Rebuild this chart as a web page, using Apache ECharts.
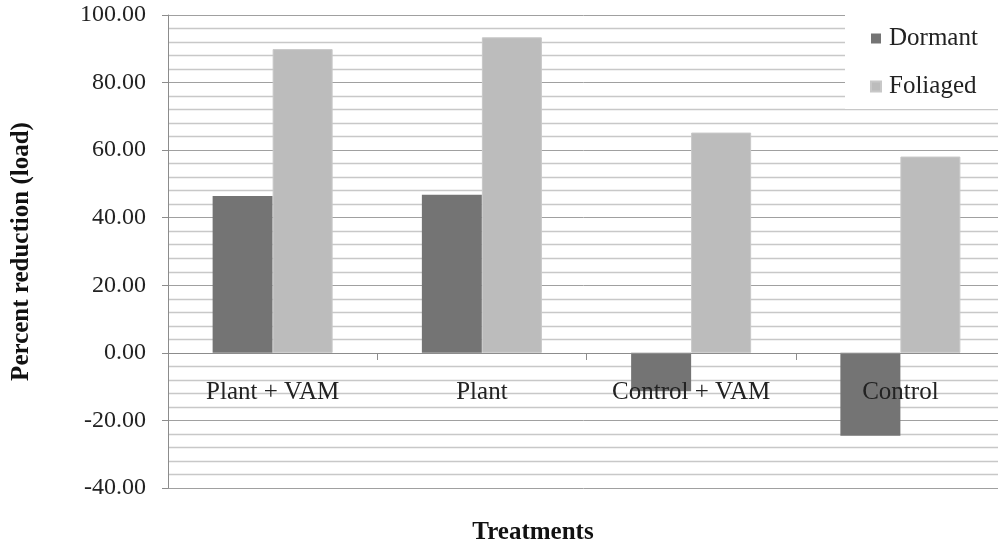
<!DOCTYPE html>
<html>
<head>
<meta charset="utf-8">
<script src="https://cdn.jsdelivr.net/npm/echarts@6/dist/echarts.min.js"></script>
<style>
  html, body { margin: 0; padding: 0; background: #fff; }
  #main { width: 998px; height: 546px; }
</style>
</head>
<body>
<div id="main"></div>
<script>
// 数据
var categories = ['Plant + VAM', 'Plant', 'Control + VAM', 'Control'];
var dormant = [46.4, 46.8, -11.4, -24.5];
var foliaged = [89.9, 93.4, 65.2, 58.1];

var myChart = echarts.init(document.getElementById('main'));
var font = 'Liberation Serif';

myChart.setOption({
  animation: false,
  backgroundColor: '#ffffff',
  color: ['#747474', '#bcbcbc'],
  grid: {
    left: 168,
    top: 15,
    bottom: 58,
    right: -7,
    containLabel: false,
    outerBoundsMode: 'none'
  },
  legend: {
    orient: 'vertical',
    left: 845,
    top: 13,
    padding: [13, 40, 10, 25],
    backgroundColor: '#ffffff',
    itemWidth: 10,
    itemHeight: 10,
    itemGap: 23,
    icon: 'rect',
    textStyle: { fontFamily: font, fontSize: 25, color: '#222', padding: [0, 0, 0, 3] },
    data: ['Dormant', 'Foliaged']
  },
  graphic: [
    {
      type: 'text',
      x: 533,
      y: 533,
      style: {
        text: 'Treatments',
        fontFamily: font,
        fontSize: 25,
        fontWeight: 'bold',
        fill: '#111',
        align: 'center',
        verticalAlign: 'middle'
      }
    }
  ],
  xAxis: {
    type: 'category',
    data: categories,
    // 横轴放在 0 的位置，文字压在柱子上面
    offset: -135,
    z: 5,
    axisLine: { onZero: false, lineStyle: { color: '#8c8c8c' } },
    axisTick: { show: true, length: 7, lineStyle: { color: '#8c8c8c' } },
    axisLabel: {
      margin: 27,
      fontFamily: font,
      fontSize: 25,
      color: '#222'
    }
  },
  yAxis: {
    type: 'value',
    min: -40,
    max: 100,
    interval: 20,
    axisLine: { show: true, lineStyle: { color: '#8c8c8c' } },
    axisTick: { show: true, length: 6, lineStyle: { color: '#8c8c8c' } },
    axisLabel: {
      margin: 22,
      fontFamily: font,
      fontSize: 24,
      color: '#222',
      formatter: function (v) { return v.toFixed(2); }
    },
    splitLine: { lineStyle: { color: '#a0a0a0', width: 1 } },
    minorTick: { show: false, splitNumber: 5 },
    minorSplitLine: { show: true, lineStyle: { color: '#c8c8c8', width: 1.3 } },
    name: 'Percent reduction (load)',
    nameLocation: 'middle',
    nameGap: 146,
    nameTextStyle: { fontFamily: font, fontSize: 25, fontWeight: 'bold', color: '#111', verticalAlign: 'middle' }
  },
  series: [
    {
      name: 'Dormant',
      type: 'bar',
      barWidth: 60,
      barGap: '0%',
      data: dormant
    },
    {
      name: 'Foliaged',
      type: 'bar',
      barWidth: 60,
      itemStyle: { borderColor: '#c8c8c8', borderWidth: 1 },
      data: foliaged
    }
  ]
});
</script>
</body>
</html>
